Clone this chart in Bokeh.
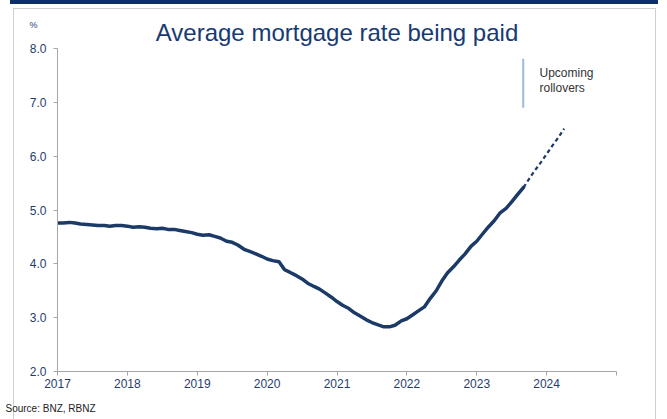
from bokeh.plotting import figure
from bokeh.models import Label, Title, FixedTicker
from bokeh.embed import file_html
from bokeh.resources import INLINE

# ---- data ----
actual_year = [
    2017.00, 2017.08, 2017.17, 2017.25, 2017.33, 2017.42, 2017.50, 2017.58, 2017.67, 2017.75, 2017.83, 2017.92,
    2018.00, 2018.08, 2018.17, 2018.25, 2018.33, 2018.42, 2018.50, 2018.58, 2018.67, 2018.75, 2018.83, 2018.92,
    2019.00, 2019.08, 2019.17, 2019.25, 2019.33, 2019.42, 2019.50, 2019.58, 2019.67, 2019.75, 2019.83, 2019.92,
    2020.00, 2020.08, 2020.17, 2020.25, 2020.33, 2020.42, 2020.50, 2020.58, 2020.67, 2020.75, 2020.83, 2020.92,
    2021.00, 2021.08, 2021.17, 2021.25, 2021.33, 2021.42, 2021.50, 2021.58, 2021.67, 2021.75, 2021.83, 2021.92,
    2022.00, 2022.08, 2022.17, 2022.25, 2022.33, 2022.42, 2022.50, 2022.58, 2022.67, 2022.75, 2022.83, 2022.92,
    2023.00, 2023.08, 2023.17, 2023.25, 2023.33, 2023.42, 2023.50, 2023.58, 2023.67,
]
actual_rate = [
    4.76, 4.76, 4.77, 4.76, 4.74, 4.73, 4.72, 4.71, 4.71, 4.70, 4.71, 4.71,
    4.70, 4.68, 4.69, 4.68, 4.66, 4.65, 4.66, 4.64, 4.64, 4.62, 4.60, 4.58,
    4.55, 4.53, 4.54, 4.51, 4.48, 4.42, 4.40, 4.35, 4.27, 4.23, 4.19, 4.14,
    4.09, 4.06, 4.04, 3.89, 3.84, 3.78, 3.72, 3.64, 3.58, 3.53, 3.46, 3.38,
    3.30, 3.23, 3.17, 3.09, 3.03, 2.96, 2.91, 2.87, 2.83, 2.83, 2.86, 2.94,
    2.98, 3.05, 3.13, 3.20, 3.35, 3.50, 3.68, 3.83, 3.95, 4.07, 4.18, 4.33,
    4.42, 4.55, 4.69, 4.80, 4.94, 5.03, 5.15, 5.28, 5.42,
]
forecast_year = [2023.67, 2023.75, 2023.83, 2023.92, 2024.00, 2024.08, 2024.17, 2024.25]
forecast_rate = [5.42, 5.58, 5.73, 5.89, 6.04, 6.19, 6.35, 6.51]

x_ticks = [2017, 2018, 2019, 2020, 2021, 2022, 2023, 2024, 2025]
x_tick_labels = ["2017", "2018", "2019", "2020", "2021", "2022", "2023", "2024", ""]
y_ticks = [2, 3, 4, 5, 6, 7, 8]

rollover_x = 2023.665
rollover_y = [6.90, 7.81]

title_text = "Average mortgage rate being paid"
unit_text = "%"
source_text = "Source: BNZ, RBNZ"
note_lines = ["Upcoming", "rollovers"]

# ---- styling ----
FONT = "Liberation Sans"
NAVY = "#1f3d6e"
TITLE_C = "#173a72"
LINE = "#1b3a67"
AXIS = "#a6a6a6"
BAR = "#0b2f6b"
FRAME = "#cfcfcf"

W, H = 667, 419
p = figure(width=W, height=H, output_backend="svg", toolbar_location=None,
           x_range=(2017, 2025), y_range=(2, 8),
           min_border_left=57, min_border_right=51, min_border_top=48, min_border_bottom=48)
p.title_location = None
p.outline_line_color = None
p.xgrid.visible = False
p.ygrid.visible = False
p.background_fill_color = None
p.border_fill_color = None
# page decoration: navy top bar and light grey panel frame
p.styles = {
    "background": (
        f"linear-gradient({BAR},{BAR}) 10px 0px / 648px 4px no-repeat, "
        f"linear-gradient({FRAME},{FRAME}) 13px 8px / 643px 1px no-repeat, "
        f"linear-gradient({FRAME},{FRAME}) 13px 8px / 1px 420px no-repeat, "
        f"linear-gradient({FRAME},{FRAME}) 655px 8px / 1px 420px no-repeat, "
        "white"
    )
}

p.line(actual_year, actual_rate, line_color=LINE, line_width=3.5, line_join="round", line_cap="round")
p.line(forecast_year, forecast_rate, line_color=LINE, line_width=2.2, line_dash="4 3")
p.segment(x0=[rollover_x], y0=[rollover_y[0]], x1=[rollover_x], y1=[rollover_y[1]],
          line_color="#9db9dc", line_width=2)

for ax in (p.xaxis[0], p.yaxis[0]):
    ax.axis_line_color = AXIS
    ax.major_tick_line_color = AXIS
    ax.minor_tick_line_color = None
    ax.major_tick_in = 0
    ax.major_tick_out = 4
    ax.major_label_text_font = FONT
    ax.major_label_text_font_size = "12px"
    ax.major_label_text_color = NAVY

p.xaxis.ticker = FixedTicker(ticks=x_ticks)
p.xaxis.major_label_overrides = {t: l for t, l in zip(x_ticks, x_tick_labels)}
p.xaxis.major_label_standoff = 3
p.yaxis.ticker = FixedTicker(ticks=y_ticks)
p.yaxis.major_label_overrides = {t: f"{t:.1f}" for t in y_ticks}
p.yaxis.major_label_standoff = 7

# texts outside the plot area
p.add_layout(Title(text=title_text, align="center", standoff=5,
                   text_font=FONT, text_font_size="24px", text_font_style="normal",
                   text_color=TITLE_C), "above")
p.add_layout(Label(x=33, y=24, x_units="canvas", y_units="canvas", text=unit_text,
                   text_align="center", text_baseline="middle",
                   text_font=FONT, text_font_size="9px", text_color=NAVY), "above")
p.add_layout(Label(x=5, y=408, x_units="canvas", y_units="canvas", text=source_text,
                   text_align="left", text_baseline="middle",
                   text_font=FONT, text_font_size="10px", text_color="#222222"), "below")

# note inside the plot area
for txt, yy in zip(note_lines, [72, 87]):
    p.add_layout(Label(x=539, y=yy, x_units="canvas", y_units="canvas", text=txt,
                       text_align="left", text_baseline="middle",
                       text_font=FONT, text_font_size="12px", text_color="#333333"))

open("out.html", "w").write(file_html(p, INLINE))
